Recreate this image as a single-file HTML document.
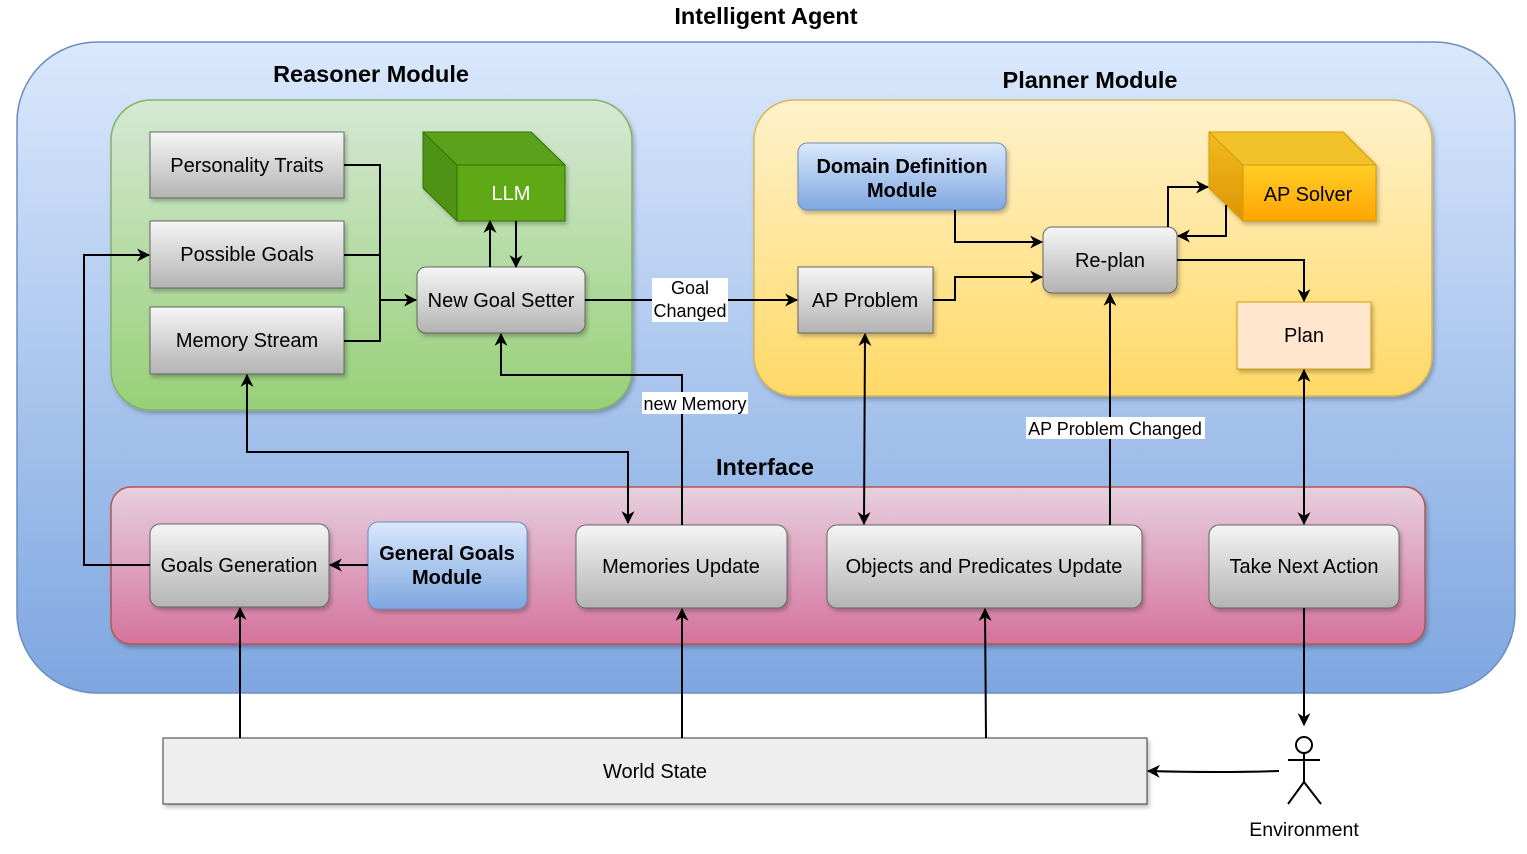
<!DOCTYPE html>
<html><head><meta charset="utf-8"><style>
html,body{margin:0;padding:0;background:#fff;}
svg{display:block;font-family:"Liberation Sans",Arial,sans-serif;}
text{font-family:"Liberation Sans",Arial,sans-serif;}
</style></head><body>
<svg width="1527" height="854" viewBox="0 0 1527 854" xmlns="http://www.w3.org/2000/svg">
<defs>
<linearGradient id="gb" x1="0" y1="0" x2="0" y2="1"><stop offset="0" stop-color="#dae8fc"/><stop offset="1" stop-color="#7ea6e0"/></linearGradient>
<linearGradient id="gg" x1="0" y1="0" x2="0" y2="1"><stop offset="0" stop-color="#d5e8d4"/><stop offset="1" stop-color="#97d077"/></linearGradient>
<linearGradient id="gy" x1="0" y1="0" x2="0" y2="1"><stop offset="0" stop-color="#fff2cc"/><stop offset="1" stop-color="#ffd966"/></linearGradient>
<linearGradient id="gp" x1="0" y1="0" x2="0" y2="1"><stop offset="0" stop-color="#e6d0de"/><stop offset="1" stop-color="#d5739d"/></linearGradient>
<linearGradient id="gs" x1="0" y1="0" x2="0" y2="1"><stop offset="0" stop-color="#f5f5f5"/><stop offset="1" stop-color="#b3b3b3"/></linearGradient>
<linearGradient id="go" x1="0" y1="0" x2="0" y2="1"><stop offset="0" stop-color="#ffcd28"/><stop offset="1" stop-color="#ffa500"/></linearGradient>
<linearGradient id="go2" x1="0" y1="0" x2="0" y2="1"><stop offset="0" stop-color="#f0bb20"/><stop offset="1" stop-color="#dd9500"/></linearGradient>
<marker id="ar" viewBox="0 0 12 12" refX="11" refY="6" markerWidth="13" markerHeight="13" orient="auto-start-reverse" markerUnits="userSpaceOnUse"><path d="M0,0 L12,6 L0,12 L3.5,6 Z" fill="#000"/></marker>
<filter id="sh" x="-10%" y="-10%" width="130%" height="130%"><feDropShadow dx="2" dy="3" stdDeviation="2" flood-color="#000" flood-opacity="0.25"/></filter>
</defs>

<text x="766" y="24" text-anchor="middle" font-size="23.5" font-weight="bold">Intelligent Agent</text>
<rect x="17" y="42" width="1498" height="651" rx="80" fill="url(#gb)" stroke="#6c8ebf" stroke-width="1.5"/>

<rect x="111" y="100" width="521" height="310" rx="40" fill="url(#gg)" stroke="#82b366" stroke-width="1.5" filter="url(#sh)"/>
<text x="371" y="82" text-anchor="middle" font-size="23.5" font-weight="bold">Reasoner Module</text>
<rect x="754" y="100" width="678" height="296" rx="40" fill="url(#gy)" stroke="#d6b656" stroke-width="1.5" filter="url(#sh)"/>
<text x="1090" y="88" text-anchor="middle" font-size="23.5" font-weight="bold">Planner Module</text>
<rect x="111" y="487" width="1314" height="157" rx="20" fill="url(#gp)" stroke="#b85450" stroke-width="1.5" filter="url(#sh)"/>
<text x="765" y="475" text-anchor="middle" font-size="23.5" font-weight="bold">Interface</text>

<g font-size="20" text-anchor="middle" fill="#000">
<rect x="150" y="132" width="194" height="66" fill="url(#gs)" stroke="#666" filter="url(#sh)"/><text x="247" y="172">Personality Traits</text>
<rect x="150" y="221" width="194" height="67" fill="url(#gs)" stroke="#666" filter="url(#sh)"/><text x="247" y="261">Possible Goals</text>
<rect x="150" y="307" width="194" height="67" fill="url(#gs)" stroke="#666" filter="url(#sh)"/><text x="247" y="347">Memory Stream</text>

<g filter="url(#sh)">
<polygon points="423,132 531,132 565,165 565,221 457,221 423,188" fill="#4f9317" stroke="#2d7600"/>
<polygon points="423,132 531,132 565,165 457,165" fill="#5ba11a" stroke="#2d7600"/>
<rect x="457" y="165" width="108" height="56" fill="#60a917" stroke="#2d7600"/>
</g>
<text x="511" y="200" fill="#fff">LLM</text>

<rect x="417" y="267" width="168" height="66" rx="9" fill="url(#gs)" stroke="#666" filter="url(#sh)"/><text x="501" y="307">New Goal Setter</text>

<rect x="798" y="143" width="208" height="67" rx="9" fill="url(#gb)" stroke="#6c8ebf" filter="url(#sh)"/>
<text x="902" y="173" font-weight="bold">Domain Definition</text><text x="902" y="197" font-weight="bold">Module</text>
<rect x="798" y="267" width="135" height="66" fill="url(#gs)" stroke="#666" filter="url(#sh)"/><text x="865" y="307">AP Problem</text>
<rect x="1043" y="227" width="134" height="66" rx="9" fill="url(#gs)" stroke="#666" filter="url(#sh)"/><text x="1110" y="267">Re-plan</text>

<g filter="url(#sh)">
<polygon points="1209,132 1343,132 1376,165 1376,221 1243,221 1209,188" fill="url(#go2)" stroke="#d79b00"/>
<polygon points="1209,132 1343,132 1376,165 1243,165" fill="#f2c22a" stroke="#d79b00"/>
<rect x="1243" y="165" width="133" height="56" fill="url(#go)" stroke="#d79b00"/>
</g>
<text x="1308" y="201">AP Solver</text>
<rect x="1237" y="302" width="134" height="67" fill="#ffe6cc" stroke="#d79b00" filter="url(#sh)"/><text x="1304" y="342">Plan</text>

<rect x="150" y="524" width="179" height="83" rx="10" fill="url(#gs)" stroke="#666" filter="url(#sh)"/><text x="239" y="572">Goals Generation</text>
<rect x="368" y="522" width="159" height="87" rx="10" fill="url(#gb)" stroke="#6c8ebf" filter="url(#sh)"/>
<text x="447" y="560" font-weight="bold">General Goals</text><text x="447" y="584" font-weight="bold">Module</text>
<rect x="576" y="525" width="211" height="83" rx="10" fill="url(#gs)" stroke="#666" filter="url(#sh)"/><text x="681" y="573">Memories Update</text>
<rect x="827" y="525" width="315" height="83" rx="10" fill="url(#gs)" stroke="#666" filter="url(#sh)"/><text x="984" y="573">Objects and Predicates Update</text>
<rect x="1209" y="525" width="190" height="83" rx="10" fill="url(#gs)" stroke="#666" filter="url(#sh)"/><text x="1304" y="573">Take Next Action</text>

<rect x="163" y="738" width="984" height="66" fill="#eeeeee" stroke="#36393d" filter="url(#sh)"/><text x="655" y="778">World State</text>
</g>

<g fill="none" stroke="#000" stroke-width="2">
<circle cx="1304" cy="745" r="8" fill="#fff"/>
<path d="M1304,753 V782 M1288,760 H1320 M1304,782 L1288,804 M1304,782 L1321,804"/>
</g>
<text x="1304" y="836" text-anchor="middle" font-size="19.5">Environment</text>

<g fill="none" stroke="#000" stroke-width="2">
<path d="M344,165 H380 V300 H416" marker-end="url(#ar)"/>
<path d="M344,255 H380"/>
<path d="M344,341 H380 V300"/>
<path d="M490,267 V221" marker-end="url(#ar)"/>
<path d="M516,221 V267" marker-end="url(#ar)"/>
<path d="M585,300 H797" marker-end="url(#ar)"/>
<path d="M682,525 V375 H501 V334" marker-end="url(#ar)"/>
<path d="M628,523 V452 H247 V375" marker-start="url(#ar)" marker-end="url(#ar)"/>
<path d="M150,565 H84 V255 H149" marker-end="url(#ar)"/>
<path d="M368,565 H330" marker-end="url(#ar)"/>
<path d="M955,210 V242 H1042" marker-end="url(#ar)"/>
<path d="M933,300 H955 V277 H1042" marker-end="url(#ar)"/>
<path d="M1168,227 V187 H1208" marker-end="url(#ar)"/>
<path d="M1226,205 V236 H1178" marker-end="url(#ar)"/>
<path d="M1177,260 H1304 V301" marker-end="url(#ar)"/>
<path d="M1110,525 V294" marker-end="url(#ar)"/>
<path d="M865,334 L864,524" marker-start="url(#ar)" marker-end="url(#ar)"/>
<path d="M1304,370 V524" marker-start="url(#ar)" marker-end="url(#ar)"/>
<path d="M1304,608 V725" marker-end="url(#ar)"/>
<path d="M1279,771 Q1220,773 1148,771" marker-end="url(#ar)"/>
<path d="M240,738 V608" marker-end="url(#ar)"/>
<path d="M682,738 L682,609" marker-end="url(#ar)"/>
<path d="M986,738 L985,609" marker-end="url(#ar)"/>
</g>

<g font-size="18" text-anchor="middle">
<rect x="652" y="278" width="76" height="44" fill="#fff"/>
<text x="690" y="294">Goal</text><text x="690" y="317">Changed</text>
<rect x="642" y="392" width="106" height="22" fill="#fff"/>
<text x="695" y="410">new Memory</text>
<rect x="1026" y="417" width="179" height="22" fill="#fff"/>
<text x="1115" y="435">AP Problem Changed</text>
</g>
</svg>
</body></html>
